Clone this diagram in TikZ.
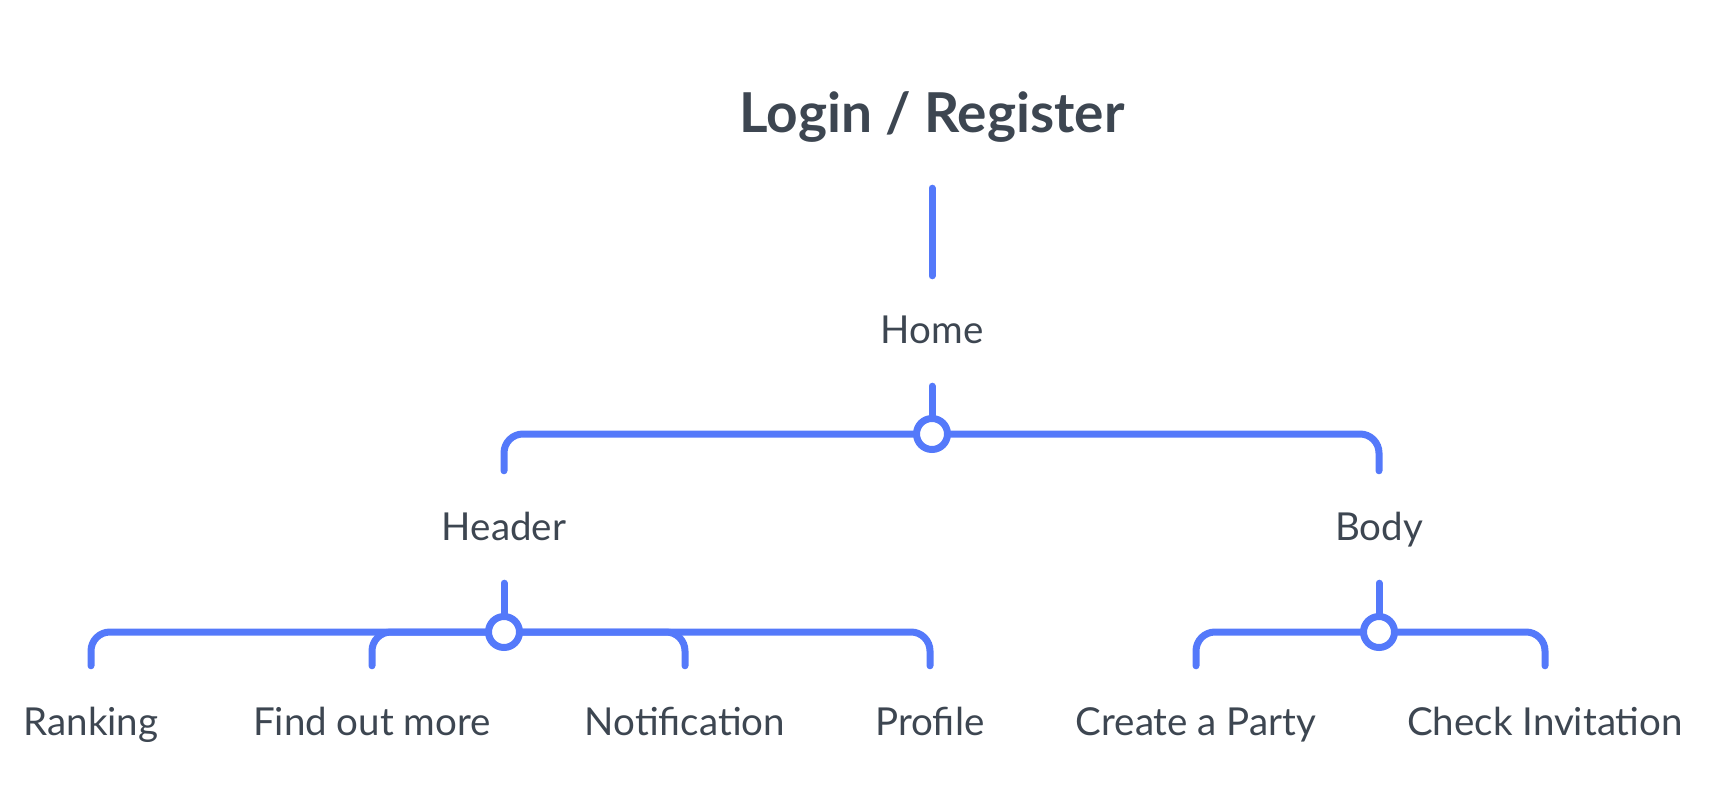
\documentclass[tikz,border=0pt]{standalone}
\usepackage{fontspec}
\setmainfont{Lato}
\usepackage{tikz}

\definecolor{linkblue}{HTML}{5479FA}
\definecolor{inkgray}{HTML}{3D4651}

\tikzset{
  title/.style={anchor=base, inner sep=0pt, text height=37pt, text depth=11pt,
    text=inkgray, font=\fontsize{55}{64}\selectfont\bfseries},
  label/.style={anchor=base, inner sep=0pt, text height=27pt, text depth=8pt,
    text=inkgray, font=\fontsize{38.5}{46}\selectfont},
  link/.style={draw=linkblue, line width=7pt, line cap=round},
  stem/.style={link, shorten <=35pt},
  branch/.style={link, rounded corners=19pt, shorten >=42pt},
  joint/.style={circle, draw=linkblue, line width=7pt, fill=white,
    minimum size=31pt, inner sep=0pt}
}

\begin{document}
\begin{tikzpicture}[x=1pt, y=-1pt]
 \useasboundingbox (0,0) rectangle (1722,800);

 % Pages
 \node[title] (login) at (932,132) {Login / Register};
 \node[label] (home) at (932,343) {Home};
 \node[label] (header) at (504,540) {Header};
 \node[label] (body) at (1379,540) {Body};

 \node[label] (ranking) at (91,735) {Ranking};
 \node[label] (findout) at (372,735) {Find out more};
 \node[label] (notif) at (685,735) {Notification};
 \node[label] (profile) at (930,735) {Profile};
 \node[label] (party) at (1196,735) {Create a Party};
 \node[label] (invite) at (1545,735) {Check Invitation};

 % Junction points
 \coordinate (homej) at (932,434);
 \coordinate (headj) at (504,632);
 \coordinate (bodyj) at (1379,632);

 % Login leads to home
 \draw[link, shorten <=45pt, shorten >=40pt] (login) -- (home);

 % Home splits in header and body
 \draw[stem] (home) -- (homej);
 \draw[branch] (homej) -| (header.north);
 \draw[branch] (homej) -| (body.north);

 % Header items
 \draw[stem] (header) -- (headj);
 \draw[branch] (headj) -| (ranking.north);
 \draw[branch] (headj) -| (findout.north);
 \draw[branch] (headj) -| (notif.north);
 \draw[branch] (headj) -| (profile.north);

 % Body items
 \draw[stem] (body) -- (bodyj);
 \draw[branch] (bodyj) -| (party.north);
 \draw[branch] (bodyj) -| (invite.north);

 % Circles on top of the junctions
 \node[joint] (homec) at (homej) {};
 \node[joint] (headc) at (headj) {};
 \node[joint] (bodyc) at (bodyj) {};

\end{tikzpicture}
\end{document}
